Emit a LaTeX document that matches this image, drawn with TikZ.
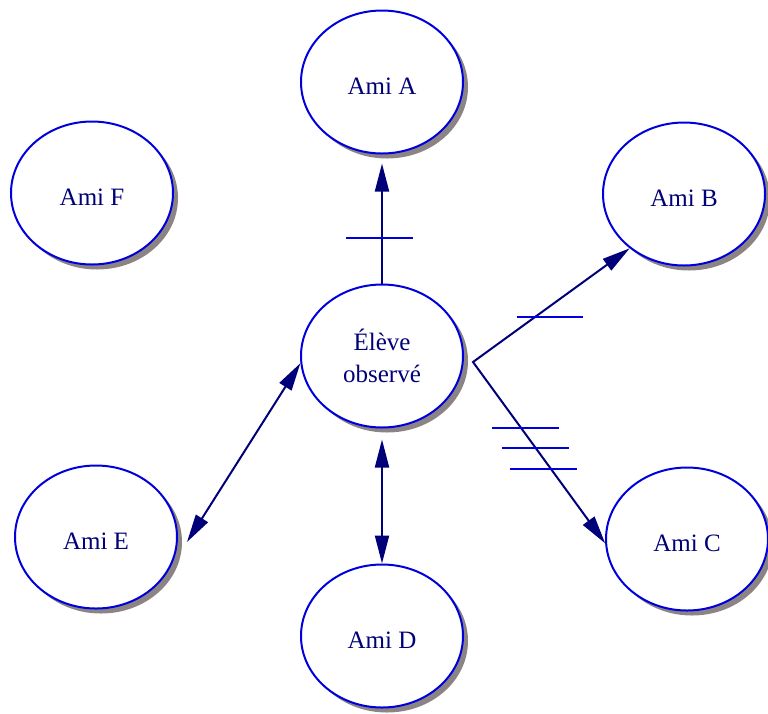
\documentclass[tikz,border=0pt]{standalone}
\usepackage{fontspec}
\setmainfont{Liberation Serif}
\usepackage{tikz}
\usetikzlibrary{shapes,arrows.meta,positioning,shadows}
\definecolor{amiblue}{RGB}{0,0,220}
\definecolor{aminavy}{RGB}{0,0,120}
\definecolor{amishadow}{RGB}{140,132,132}

\begin{document}
\begin{tikzpicture}[x=1pt, y=-1pt,
  ami/.style={ellipse, draw=amiblue, line width=2pt, fill=white, text=aminavy,
    minimum width=162pt, minimum height=143pt, inner sep=0pt, align=center,
    font=\fontsize{25}{32}\selectfont,
    drop shadow={shadow xshift=5pt, shadow yshift=-5pt, fill=amishadow, opacity=1}},
  amione/.style={ami, text height=25pt, text depth=0pt},
  link/.style={draw=aminavy, line width=2pt, >={Triangle[length=28pt,width=14pt]}},
  tick/.style={draw=amiblue, line width=1.8pt}]
\useasboundingbox (0,0) rectangle (768,713);
\node[ami] (eleve) at (382,356) {Élève\\observé};
\node[amione] (amiA) at (382,82) {Ami A};
\node[amione] (amiB) at (684,194) {Ami B};
\node[amione] (amiC) at (687,539) {Ami C};
\node[amione] (amiD) at (382,636) {Ami D};
\node[amione] (amiE) at (96,537) {Ami E};
\node[amione] (amiF) at (92,193) {Ami F};
\coordinate (split) at (473,362);
\draw[link, ->] (eleve.north) -- ([yshift=-9pt]amiA.south);
\draw[link, <->] (amiB.225) -- (split) -- (amiC.183);
\draw[link, <->] (eleve.185) -- ([xshift=9pt,yshift=-5pt]amiE.east);
\draw[link, <->] ([yshift=-11pt]eleve.south) -- (amiD.north);
\draw[tick] (346,238) -- (413,238);
\draw[tick] (517,317) -- (583,317);
\draw[tick] (492,428) -- (559,428);
\draw[tick] (502,448) -- (569,448);
\draw[tick] (510,469) -- (577,469);
\end{tikzpicture}
\end{document}
